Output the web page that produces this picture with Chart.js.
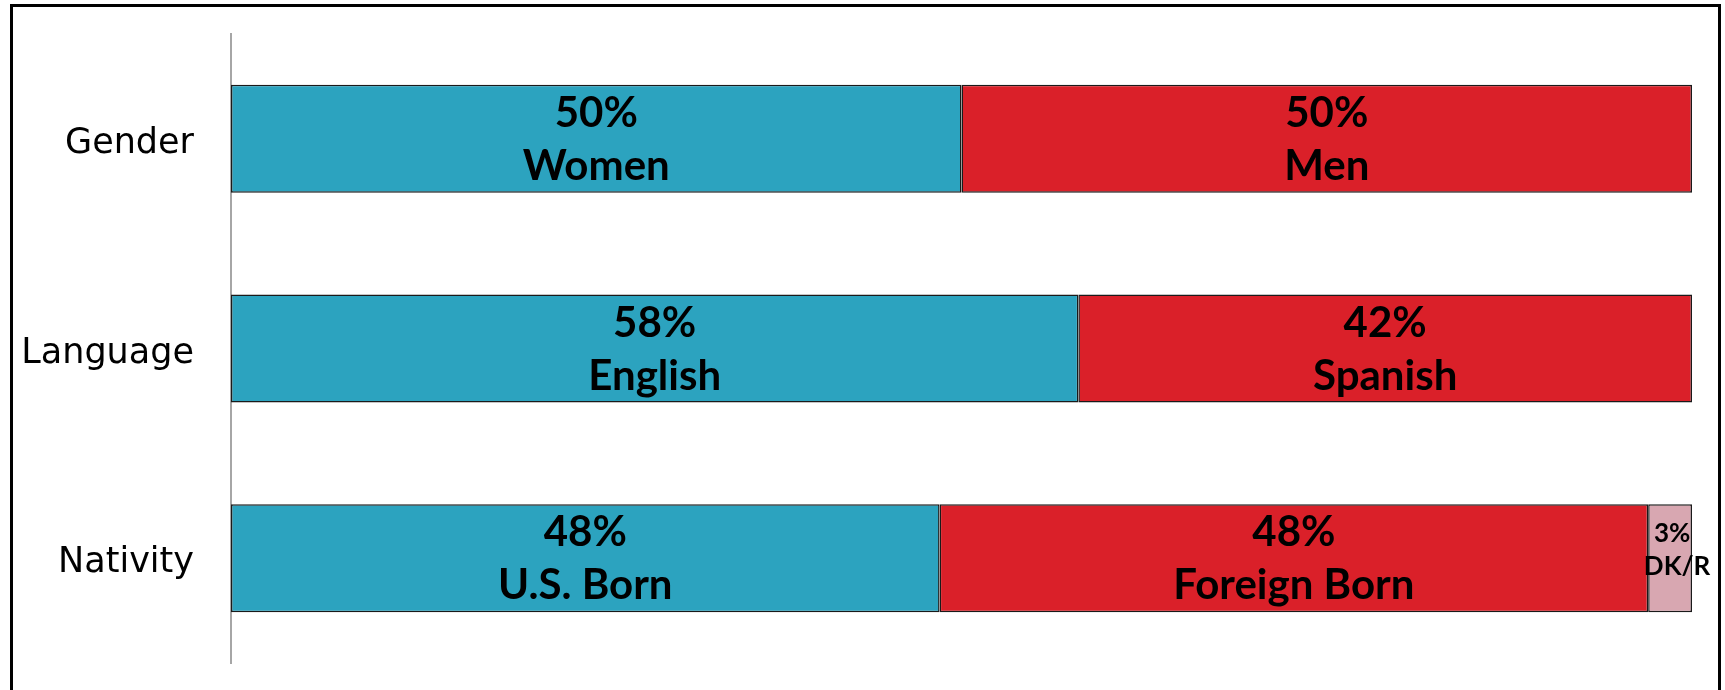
<!DOCTYPE html>
<html lang="en">
<head>
    <meta charset="utf-8" />
    <title>Profile bars</title>
    <script src="https://cdn.jsdelivr.net/npm/chart.js"></script>
    <style>
        body { margin: 0; background: #fff; }
        #wrap { width: 1725px; height: 690px; }
    </style>
    <script type="text/javascript">
        var categories = ['Gender', 'Language', 'Nativity'];

        // segment widths (percent of bar)
        var firstShare = [50, 58, 48.5];
        var secondShare = [50, 42, 48.5];
        var dkShare = [0, 0, 3];

        // text printed inside the segments
        var firstPct = ['50%', '58%', '48%'];
        var firstName = ['Women', 'English', 'U.S. Born'];
        var secondPct = ['50%', '42%', '48%'];
        var secondName = ['Men', 'Spanish', 'Foreign Born'];
        var dkPct = ['', '', '3%'];
        var dkName = ['', '', 'DK/R'];

        document.addEventListener('DOMContentLoaded', function () {
            var boldFont = 'Lato, "DejaVu Sans", sans-serif';
            var catFont = '"DejaVu Sans", sans-serif';

            var frame = {
                id: 'frame',
                beforeDraw: function (chart) {
                    var ctx = chart.ctx;
                    ctx.save();
                    ctx.fillStyle = '#fff';
                    ctx.fillRect(0, 0, chart.width, chart.height);
                    ctx.strokeStyle = '#000';
                    ctx.lineWidth = 3;
                    ctx.strokeRect(11.5, 5.5, 1708, 700);
                    ctx.restore();
                }
            };

            var segmentText = {
                id: 'segmentText',
                afterDatasetsDraw: function (chart) {
                    var ctx = chart.ctx;
                    ctx.save();
                    ctx.fillStyle = '#000';
                    ctx.textAlign = 'center';
                    ctx.textBaseline = 'alphabetic';
                    chart.data.datasets.forEach(function (ds, di) {
                        var meta = chart.getDatasetMeta(di);
                        meta.data.forEach(function (bar, i) {
                            var top = ds.pct[i], bottom = ds.name[i];
                            if (!top) return;
                            var cx = (bar.x + bar.base) / 2;
                            if (ds.small) {
                                ctx.font = 'bold 26px ' + boldFont;
                                ctx.fillText(top, cx + 2, bar.y - 16);
                                ctx.fillText(bottom, cx + 7, bar.y + 17);
                            } else {
                                ctx.font = 'bold 42px ' + boldFont;
                                ctx.fillText(top, cx, bar.y - 12);
                                ctx.fillText(bottom, cx, bar.y + 41);
                            }
                        });
                    });
                    ctx.restore();
                }
            };

            new Chart(document.getElementById('chart'), {
                type: 'bar',
                data: {
                    labels: categories,
                    datasets: [
                        { data: firstShare, pct: firstPct, name: firstName, backgroundColor: '#2CA3BF' },
                        { data: secondShare, pct: secondPct, name: secondName, backgroundColor: '#DA2029' },
                        { data: dkShare, pct: dkPct, name: dkName, small: true, backgroundColor: '#D8A7B1' }
                    ]
                },
                options: {
                    indexAxis: 'y',
                    responsive: false,
                    animation: false,
                    layout: { padding: { top: 34, bottom: 27, right: 33, left: 0 } },
                    datasets: {
                        bar: {
                            borderColor: '#1a1a1a',
                            borderWidth: 1.5,
                            borderSkipped: false,
                            categoryPercentage: 1,
                            barPercentage: 0.515
                        }
                    },
                    plugins: {
                        legend: { display: false },
                        tooltip: { enabled: false }
                    },
                    scales: {
                        x: {
                            stacked: true,
                            min: 0,
                            max: 100,
                            display: false
                        },
                        y: {
                            stacked: true,
                            grid: { display: false, drawTicks: false },
                            border: { color: '#A6A6A6', width: 2 },
                            ticks: {
                                color: '#000',
                                padding: 37,
                                labelOffset: 5,
                                font: { family: catFont, size: 35 }
                            },
                            afterFit: function (axis) {
                                axis.width = 231;
                                axis.paddingTop = 0;
                                axis.paddingBottom = 0;
                            }
                        }
                    }
                },
                plugins: [frame, segmentText]
            });
        });
    </script>
</head>
<body>
    <div id="wrap"><canvas id="chart" width="1725" height="690"></canvas></div>
</body>
</html>
